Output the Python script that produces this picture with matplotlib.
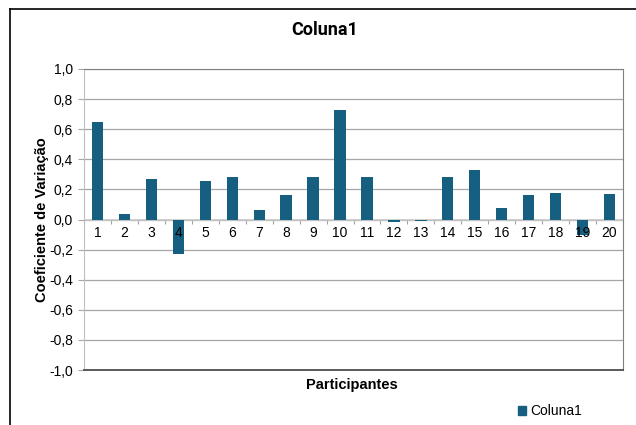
import matplotlib
matplotlib.use("Agg")
import matplotlib.pyplot as plt
import matplotlib.ticker as mtick
from matplotlib.lines import Line2D
from matplotlib.patches import Patch
import numpy as np

participants = [str(i) for i in range(1, 21)]
cv_values = [0.65, 0.038, 0.27, -0.23, 0.255, 0.285, 0.065, 0.16, 0.28, 0.725,
             0.285, -0.017, -0.01, 0.285, 0.33, 0.075, 0.165, 0.175, -0.10, 0.172]
y_ticks = [-1.0, -0.8, -0.6, -0.4, -0.2, 0.0, 0.2, 0.4, 0.6, 0.8, 1.0]

BAR = "#175f80"
W, H = 636, 425

plt.rcParams["font.family"] = ["Liberation Sans", "DejaVu Sans"]
fig = plt.figure(figsize=(W / 100, H / 100), dpi=100)
ax = fig.add_axes([84 / W, 1 - 370 / H, (623 - 84) / W, (370 - 69) / H])

x = np.arange(len(participants))
ax.grid(axis="y", color="#a6a6a6", linewidth=0.9, zorder=0)
ax.axhline(0, color="#c8c8c8", linewidth=1.2, zorder=2)
ax.bar(x, cv_values, width=0.42, color=BAR, zorder=3)

ax.set_xlim(-0.5, len(participants) - 0.5)
ax.set_ylim(-1.0, 1.0)
ax.set_yticks(y_ticks)
ax.yaxis.set_major_formatter(mtick.FuncFormatter(lambda v, _: f"{v:.1f}".replace(".", ",")))
ax.tick_params(axis="y", length=4, color="#a6a6a6", labelsize=10, pad=4)

# category axis crosses at zero: boundary ticks below the line, labels drawn on top of bars
ax.spines["bottom"].set_position(("data", 0))
ax.spines["bottom"].set_visible(False)
ax.set_xticks(np.arange(len(participants) + 1) - 0.5)
ax.set_xticklabels([])
ax.tick_params(axis="x", which="major", length=3, color="#a6a6a6", direction="out")
for xi, name in zip(x, participants):
    ax.annotate(name, (xi, 0), xytext=(0, -5), textcoords="offset points",
                ha="center", va="top", fontsize=10, zorder=6)

ax.spines["left"].set_color("#bfbfbf")
ax.spines["top"].set_color("#808080")
ax.spines["right"].set_color("#808080")
ax.axhline(-1.0, color="#404040", linewidth=1.2, zorder=5, clip_on=False)

fig.text(42 / W, 1 - 220 / H, "Coeficiente de Variação", ha="center", va="center",
         rotation=90, fontsize=10.5, fontweight="bold")
fig.text(352 / W, 1 - 385 / H, "Participantes", ha="center", va="center",
         fontsize=10.5, fontweight="bold")
fig.text(325 / W, 1 - 30 / H, "Coluna1", ha="center", va="center",
         fontsize=13, fontweight="bold", family=["Roboto", "DejaVu Sans"])

fig.legend(handles=[Patch(color=BAR, label="Coluna1")], loc="center",
           bbox_to_anchor=(550 / W, 1 - 411 / H), frameon=False, fontsize=10,
           handlelength=0.6, handleheight=0.6, handletextpad=0.3)

# outer chart frame
fig.add_artist(Line2D([10 / W, 10 / W], [0, 1 - 9 / H], color="black", linewidth=1.2))
fig.add_artist(Line2D([10 / W, 1], [1 - 9 / H, 1 - 9 / H], color="black", linewidth=1.2))

fig.savefig("out.png", dpi=100)
